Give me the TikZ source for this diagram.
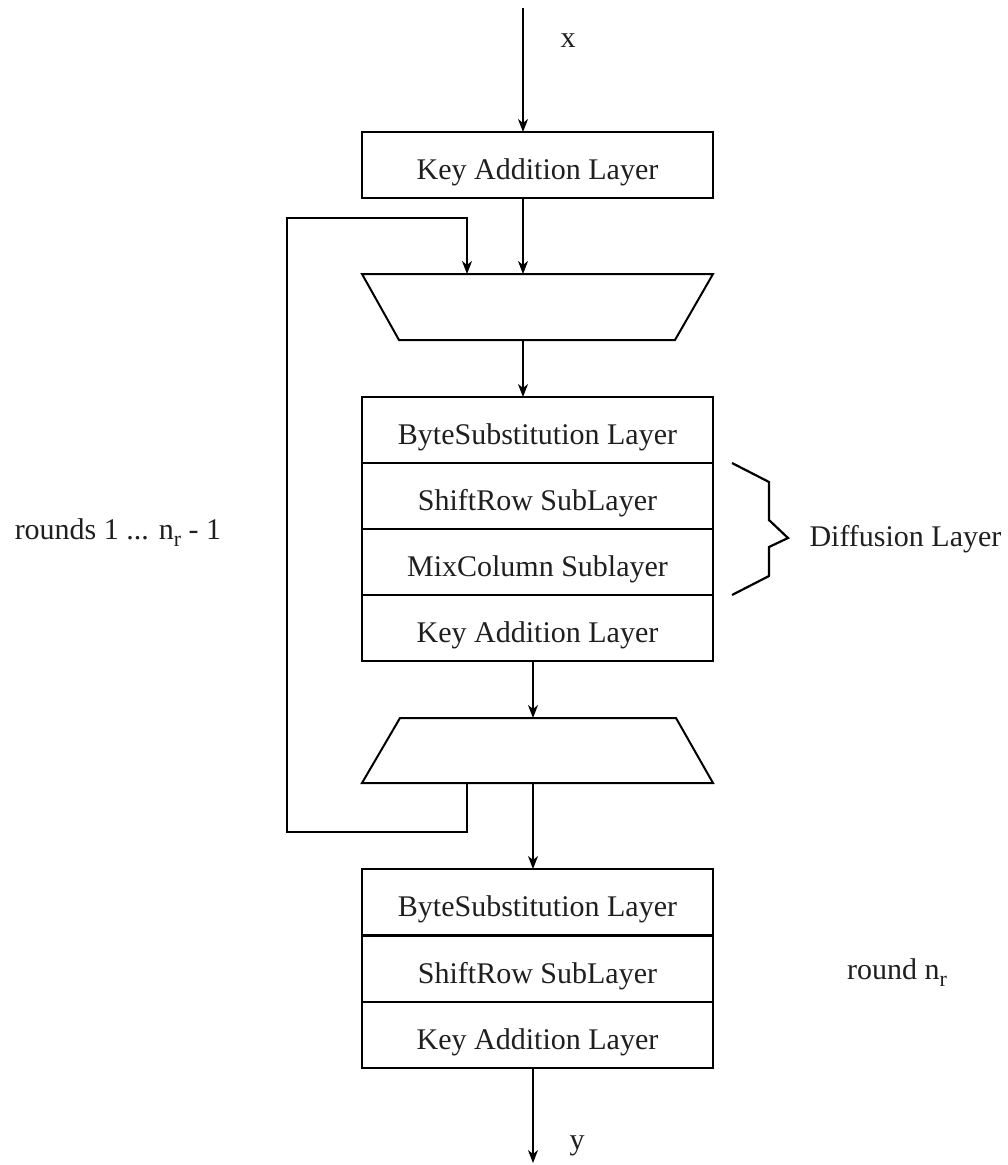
\documentclass[tikz,border=0pt]{standalone}
\usepackage{fontspec}
\setmainfont{Liberation Serif}
\usetikzlibrary{arrows.meta}
\begin{document}
\begin{tikzpicture}[x=1pt,y=-1pt,
  every node/.style={font=\fontsize{30}{36}\selectfont, text=black!88},
  layerbox/.style={draw, line width=2pt, minimum width=351pt, minimum height=66pt, inner sep=0pt, outer sep=0pt,
     text height=29pt, text depth=0pt},
  trap/.style={line width=2pt, line join=miter},
  arr/.style={line width=1.2pt, -{Stealth[length=13pt,width=10pt,inset=4pt]}},
  fb/.style={line width=2.2pt},
  brace/.style={line width=2.2pt, line join=miter}
]
\useasboundingbox (0,0) rectangle (1008,1165);

% boxes
\node[layerbox] (key0) at (537.5,165) {Key Addition Layer};
\node[layerbox] (bs1) at (537.5,430) {ByteSubstitution Layer};
\node[layerbox] (sr1) at (537.5,496) {ShiftRow SubLayer};
\node[layerbox] (mc1) at (537.5,562) {MixColumn Sublayer};
\node[layerbox] (ka1) at (537.5,628) {Key Addition Layer};
\node[layerbox] (bs2) at (537.5,902) {ByteSubstitution Layer};
\node[layerbox] (sr2) at (537.5,968.5) {ShiftRow SubLayer};
\node[layerbox] (ka2) at (537.5,1035) {Key Addition Layer};

% multiplexers (trapezoids)
\draw[trap] (362,274) -- (713,274) -- (675,340) -- (399,340) -- cycle;
\coordinate (mux1n) at (537.5,274);
\coordinate (mux1s) at (537.5,340);
\draw[trap] (400,718) -- (676,718) -- (713,783) -- (362,783) -- cycle;
\coordinate (mux2n) at (537.5,718);
\coordinate (mux2s) at (537.5,783);

% labels
\node (xl) at (568,41) {x};
\node (yl) at (577,1146) {y};
\node (rl) at (118,533) {rounds 1 ... n\raisebox{-0.5ex}{\fontsize{22}{22}\selectfont r} - 1};
\node[anchor=west] (dl) at (806,539) {Diffusion Layer};
\node (rn) at (897,973) {round n\raisebox{-0.5ex}{\fontsize{22}{22}\selectfont r}};

% coordinates for connectors
\coordinate (xin) at (523,8);
\coordinate (c1) at (523,0);
\coordinate (c2) at (533,0);
\coordinate (yout) at (533,1163);
\coordinate (fb1) at (467,832);
\coordinate (fb2) at (287,832);
\coordinate (fb3) at (287,218);
\coordinate (fb4) at (467,218);

% connectors
\draw[arr] (xin) -- (xin |- key0.north);
\draw[arr] (c1 |- key0.south) -- (c1 |- mux1n);
\draw[arr] (c1 |- mux1s) -- (c1 |- bs1.north);
\draw[arr] (c2 |- ka1.south) -- (c2 |- mux2n);
\draw[arr] (c2 |- mux2s) -- (c2 |- bs2.north);
\draw[arr] (c2 |- ka2.south) -- (yout);

% feedback loop
\draw[fb, line join=miter] (fb1 |- mux2s) -- (fb1) -- (fb2) -- (fb3) -- (fb4) -- ++(0,20);
\draw[arr, line width=2.2pt] (fb4) -- (fb4 |- mux1n);

% diffusion brace
\draw[brace] (732,463) -- (769,482) -- (769,520) -- (788,538) -- (769,547) -- (769,576) -- (732,595);
\end{tikzpicture}
\end{document}
